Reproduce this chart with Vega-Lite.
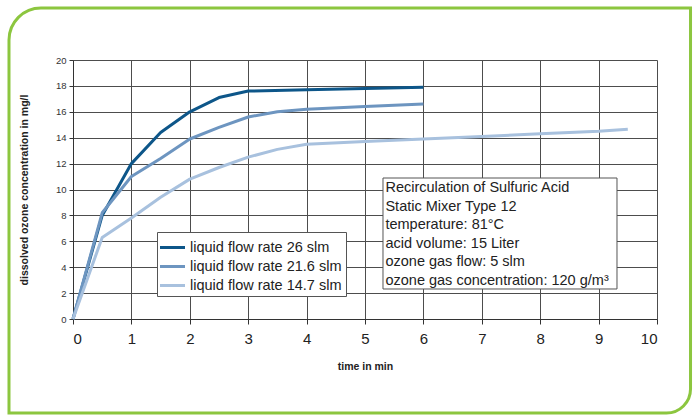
{
  "$schema": "https://vega.github.io/schema/vega-lite/v6.json",
  "autosize": "none",
  "width": 584,
  "height": 259,
  "padding": {"left": 73, "top": 60, "right": 40, "bottom": 96},
  "background": "white",
  "config": {
    "view": {"stroke": null},
    "font": "Liberation Sans",
    "axisX": {
      "grid": true, "gridColor": "#4d4d4d", "gridWidth": 1, "gridOpacity": 1,
      "domainColor": "#333", "domainWidth": 1,
      "tickColor": "#333", "tickSize": 5,
      "labelFontSize": 15, "labelColor": "#222", "labelPadding": 7,
      "titleFontSize": 10.5, "titleFontWeight": "bold", "titleColor": "#222", "titlePadding": 15
    },
    "axisY": {
      "grid": true, "gridColor": "#4d4d4d", "gridWidth": 1, "gridOpacity": 1,
      "domainColor": "#333", "domainWidth": 1,
      "tickColor": "#333", "tickSize": 4,
      "labelFontSize": 9.5, "labelColor": "#333", "labelPadding": 3,
      "titleFontSize": 10.5, "titleFontWeight": "bold", "titleColor": "#222", "titlePadding": 26
    }
  },
  "datasets": {
    "series": [
      {"t": 0, "c": 0, "s": "liquid flow rate 26 slm"},
      {"t": 0.5, "c": 8.0, "s": "liquid flow rate 26 slm"},
      {"t": 1, "c": 12.0, "s": "liquid flow rate 26 slm"},
      {"t": 1.5, "c": 14.4, "s": "liquid flow rate 26 slm"},
      {"t": 2, "c": 16.0, "s": "liquid flow rate 26 slm"},
      {"t": 2.5, "c": 17.1, "s": "liquid flow rate 26 slm"},
      {"t": 3, "c": 17.6, "s": "liquid flow rate 26 slm"},
      {"t": 4, "c": 17.7, "s": "liquid flow rate 26 slm"},
      {"t": 5, "c": 17.8, "s": "liquid flow rate 26 slm"},
      {"t": 6, "c": 17.9, "s": "liquid flow rate 26 slm"},
      {"t": 0, "c": 0, "s": "liquid flow rate 21.6 slm"},
      {"t": 0.5, "c": 8.2, "s": "liquid flow rate 21.6 slm"},
      {"t": 1, "c": 11.0, "s": "liquid flow rate 21.6 slm"},
      {"t": 1.5, "c": 12.4, "s": "liquid flow rate 21.6 slm"},
      {"t": 2, "c": 13.9, "s": "liquid flow rate 21.6 slm"},
      {"t": 2.5, "c": 14.8, "s": "liquid flow rate 21.6 slm"},
      {"t": 3, "c": 15.6, "s": "liquid flow rate 21.6 slm"},
      {"t": 3.5, "c": 16.0, "s": "liquid flow rate 21.6 slm"},
      {"t": 4, "c": 16.2, "s": "liquid flow rate 21.6 slm"},
      {"t": 5, "c": 16.4, "s": "liquid flow rate 21.6 slm"},
      {"t": 6, "c": 16.6, "s": "liquid flow rate 21.6 slm"},
      {"t": 0, "c": 0, "s": "liquid flow rate 14.7 slm"},
      {"t": 0.5, "c": 6.3, "s": "liquid flow rate 14.7 slm"},
      {"t": 1, "c": 7.8, "s": "liquid flow rate 14.7 slm"},
      {"t": 1.5, "c": 9.4, "s": "liquid flow rate 14.7 slm"},
      {"t": 2, "c": 10.8, "s": "liquid flow rate 14.7 slm"},
      {"t": 2.5, "c": 11.7, "s": "liquid flow rate 14.7 slm"},
      {"t": 3, "c": 12.5, "s": "liquid flow rate 14.7 slm"},
      {"t": 3.5, "c": 13.1, "s": "liquid flow rate 14.7 slm"},
      {"t": 4, "c": 13.5, "s": "liquid flow rate 14.7 slm"},
      {"t": 5, "c": 13.7, "s": "liquid flow rate 14.7 slm"},
      {"t": 6, "c": 13.9, "s": "liquid flow rate 14.7 slm"},
      {"t": 7, "c": 14.1, "s": "liquid flow rate 14.7 slm"},
      {"t": 8, "c": 14.3, "s": "liquid flow rate 14.7 slm"},
      {"t": 9, "c": 14.5, "s": "liquid flow rate 14.7 slm"},
      {"t": 9.5, "c": 14.65, "s": "liquid flow rate 14.7 slm"}
    ],
    "note": [
      {"lines": ["Recirculation of Sulfuric Acid", "Static Mixer Type 12", "temperature: 81°C", "acid volume: 15 Liter", "ozone gas flow: 5 slm", "ozone gas concentration: 120 g/m³"]}
    ]
  },
  "layer": [
    {
      "data": {"values": [{}]},
      "mark": {"type": "rect", "fill": null, "stroke": "#8cc63f", "strokeWidth": 3, "cornerRadiusTopLeft": 32, "cornerRadiusBottomRight": 24, "clip": false},
      "encoding": {
        "x": {"datum": -1.096, "type": "quantitative", "scale": {"domain": [0, 10], "nice": false},
              "axis": {"title": "time in min", "values": [0, 1, 2, 3, 4, 5, 6, 7, 8, 9, 10], "format": "d"}},
        "x2": {"datum": 10.574},
        "y": {"datum": 24.015, "type": "quantitative", "scale": {"domain": [0, 20], "nice": false},
              "axis": {"title": "dissolved ozone concentration in mg/l", "values": [0, 2, 4, 6, 8, 10, 12, 14, 16, 18, 20], "format": "d"}},
        "y2": {"datum": -7.26}
      }
    },
    {
      "data": {"name": "series"},
      "mark": {"type": "line", "strokeWidth": 3, "strokeJoin": "round"},
      "encoding": {
        "x": {"field": "t", "type": "quantitative", "scale": {"domain": [0, 10], "nice": false},
              "axis": {"title": "time in min", "values": [0, 1, 2, 3, 4, 5, 6, 7, 8, 9, 10], "format": "d"}},
        "y": {"field": "c", "type": "quantitative", "scale": {"domain": [0, 20], "nice": false},
              "axis": {"title": "dissolved ozone concentration in mg/l", "values": [0, 2, 4, 6, 8, 10, 12, 14, 16, 18, 20], "format": "d"}},
        "color": {
          "field": "s", "type": "nominal",
          "scale": {
            "domain": ["liquid flow rate 26 slm", "liquid flow rate 21.6 slm", "liquid flow rate 14.7 slm"],
            "range": ["#0d5689", "#6d95c0", "#a8c1de"]
          },
          "legend": {
            "title": null,
            "orient": "none", "legendX": 84, "legendY": 172,
            "symbolType": "M-1.25,0H1.25", "symbolSize": 400, "symbolStrokeWidth": 3,
            "labelFontSize": 14.5, "labelColor": "#222", "labelOffset": 6,
            "rowPadding": 1,
            "padding": 4, "strokeColor": "#555", "fillColor": "white"
          }
        }
      }
    },
    {
      "data": {"name": "note"},
      "mark": {"type": "rect", "fill": "white", "stroke": "#555", "strokeWidth": 1},
      "encoding": {
        "x": {"datum": 5.308, "type": "quantitative",
              "axis": {"title": "time in min", "values": [0, 1, 2, 3, 4, 5, 6, 7, 8, 9, 10], "format": "d"}},
        "x2": {"datum": 9.315},
        "y": {"datum": 10.888, "type": "quantitative",
              "axis": {"title": "dissolved ozone concentration in mg/l", "values": [0, 2, 4, 6, 8, 10, 12, 14, 16, 18, 20], "format": "d"}},
        "y2": {"datum": 2.317}
      }
    },
    {
      "data": {"name": "note"},
      "mark": {"type": "text", "align": "left", "baseline": "top", "fontSize": 14.5, "lineHeight": 18.5, "color": "#222", "dy": 3},
      "encoding": {
        "x": {"datum": 5.35, "type": "quantitative",
              "axis": {"title": "time in min", "values": [0, 1, 2, 3, 4, 5, 6, 7, 8, 9, 10], "format": "d"}},
        "y": {"datum": 10.888, "type": "quantitative",
              "axis": {"title": "dissolved ozone concentration in mg/l", "values": [0, 2, 4, 6, 8, 10, 12, 14, 16, 18, 20], "format": "d"}},
        "text": {"field": "lines"}
      }
    }
  ]
}
